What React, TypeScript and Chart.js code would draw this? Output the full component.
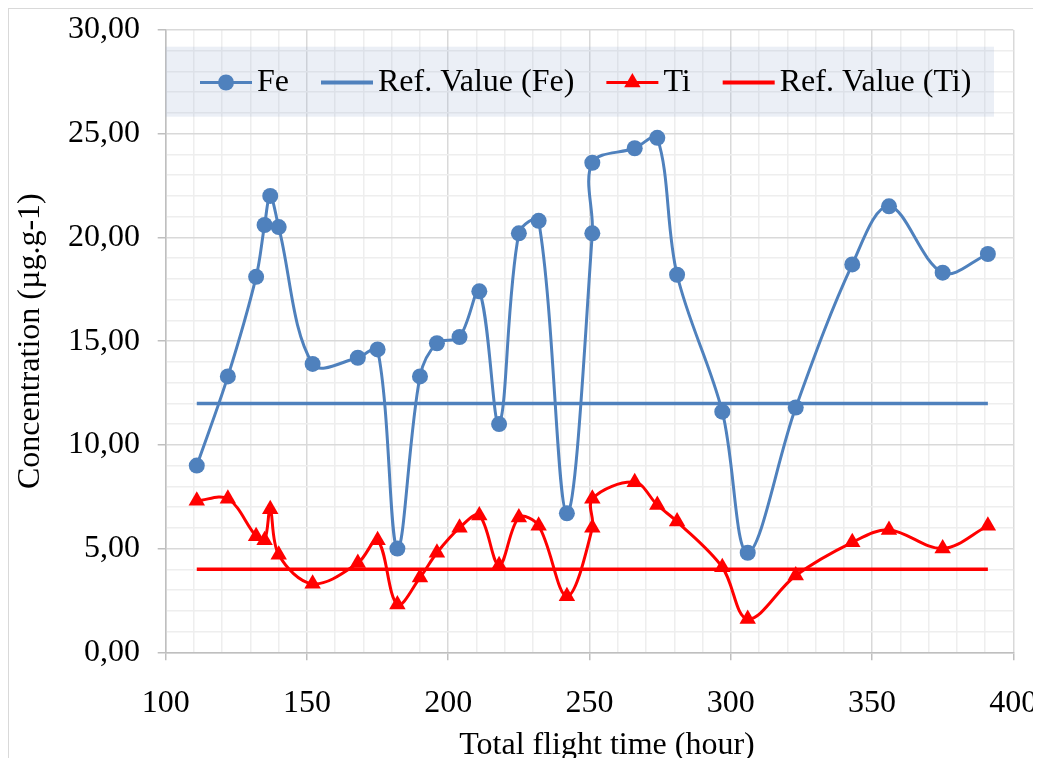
import React, { useEffect, useRef } from 'react';
import { Chart, registerables } from 'chart.js';

Chart.register(...registerables);

// ---- data ----
const flightTime = [111, 122, 132, 135, 137, 140, 152, 168, 175, 182, 190, 196, 204, 211, 218, 225, 232, 242, 251, 251, 266, 274, 281, 297, 306, 323, 343, 356, 375, 391];
const feValues = [9.0, 13.3, 18.1, 20.6, 22.0, 20.5, 13.9, 14.2, 14.6, 5.0, 13.3, 14.9, 15.2, 17.4, 11.0, 20.2, 20.8, 6.7, 20.2, 23.6, 24.3, 24.8, 18.2, 11.6, 4.8, 11.8, 18.7, 21.5, 18.3, 19.2];
const tiValues = [7.3, 7.4, 5.6, 5.4, 6.9, 4.7, 3.3, 4.3, 5.4, 2.3, 3.6, 4.8, 6.0, 6.6, 4.2, 6.5, 6.1, 2.7, 6.0, 7.4, 8.2, 7.1, 6.3, 4.1, 1.6, 3.7, 5.3, 5.9, 5.0, 6.1];
const feRefValue = 12;
const tiRefValue = 4;
const seriesNames = ['Fe', 'Ref. Value (Fe)', 'Ti', 'Ref. Value (Ti)'];
const xTickLabels = ['100', '150', '200', '250', '300', '350', '400'];
const yTickLabels = ['0,00', '5,00', '10,00', '15,00', '20,00', '25,00', '30,00'];
const xTitle = 'Total flight time (hour)';
const yTitle = 'Concentration (µg.g-1)';

const FONT = '"Liberation Serif", "Times New Roman", serif';
const FS = 32;
const FE_COLOR = '#4F81BD';
const TI_COLOR = '#FF0000';

const legendPlugin = {
  id: 'boxLegend',
  beforeDatasetsDraw(chart: any) {
    const { ctx, chartArea } = chart;
    ctx.save();
    ctx.fillStyle = 'rgba(155,175,210,0.2)';
    ctx.fillRect(chartArea.left, chartArea.top + 16.7, 985 - chartArea.left, 70);
    ctx.restore();
  },
  afterDraw(chart: any) {
    const { ctx, chartArea } = chart;
    const cy = chartArea.top + 52.5;
    ctx.save();
    ctx.font = `${FS}px ${FONT}`;
    ctx.textBaseline = 'middle';
    ctx.textAlign = 'left';
    let x = 191;
    const items = [
      { name: seriesNames[0], color: FE_COLOR, marker: 'circle', lw: 3 },
      { name: seriesNames[1], color: FE_COLOR, marker: 'none', lw: 4 },
      { name: seriesNames[2], color: TI_COLOR, marker: 'triangle', lw: 3 },
      { name: seriesNames[3], color: TI_COLOR, marker: 'none', lw: 4 },
    ];
    for (const it of items) {
      ctx.strokeStyle = it.color;
      ctx.lineWidth = it.lw;
      ctx.beginPath();
      ctx.moveTo(x, cy);
      ctx.lineTo(x + 52, cy);
      ctx.stroke();
      const mx = x + 26;
      ctx.fillStyle = it.color;
      if (it.marker === 'circle') {
        ctx.beginPath();
        ctx.arc(mx, cy, 8, 0, Math.PI * 2);
        ctx.fill();
      } else if (it.marker === 'triangle') {
        const r = 9.5;
        ctx.beginPath();
        ctx.moveTo(mx, cy - r);
        ctx.lineTo(mx + 0.866 * r, cy + 0.5 * r);
        ctx.lineTo(mx - 0.866 * r, cy + 0.5 * r);
        ctx.closePath();
        ctx.fill();
      }
      ctx.fillStyle = '#000';
      ctx.fillText(it.name, x + 57, cy);
      x += 57 + ctx.measureText(it.name).width + 32;
    }
    // x-axis title (offset to the right of the plot centre, as in the reference)
    ctx.textAlign = 'center';
    ctx.textBaseline = 'middle';
    ctx.fillText(xTitle, 598, 737);
    ctx.restore();
  },
};

export default function App() {
  const ref = useRef<HTMLCanvasElement>(null);
  useEffect(() => {
    document.documentElement.style.overflow = 'hidden';
    const first = flightTime[0];
    const last = flightTime[flightTime.length - 1];
    const feData = flightTime.map((t, i) => ({ x: t, y: feValues[i] }));
    const tiData = flightTime.map((t, i) => ({ x: t, y: tiValues[i] }));
    const isMajor = (c: any) => c.tick && Math.round(c.tick.value) % (c.scale.axis === 'x' ? 50 : 5) === 0;
    const gridColor = (c: any) => (isMajor(c) ? '#d9d9d9' : '#eeeeee');
    const tickColor = (c: any) => (isMajor(c) ? '#bfbfbf' : 'rgba(0,0,0,0)');
    const chart = new Chart(ref.current!, {
      type: 'line',
      data: {
        datasets: [
          {
            label: seriesNames[1],
            data: [{ x: first, y: feRefValue }, { x: last, y: feRefValue }],
            borderColor: FE_COLOR,
            borderWidth: 3.5,
            pointRadius: 0,
            tension: 0,
            order: 4,
          },
          {
            label: seriesNames[0],
            data: feData,
            borderColor: FE_COLOR,
            backgroundColor: FE_COLOR,
            borderWidth: 3,
            pointStyle: 'circle',
            pointRadius: 8,
            pointBorderWidth: 0,
            pointBackgroundColor: FE_COLOR,
            tension: 0.35,
            order: 3,
          },
          {
            label: seriesNames[3],
            data: [{ x: first, y: tiRefValue }, { x: last, y: tiRefValue }],
            borderColor: TI_COLOR,
            borderWidth: 3.5,
            pointRadius: 0,
            tension: 0,
            order: 2,
          },
          {
            label: seriesNames[2],
            data: tiData,
            borderColor: TI_COLOR,
            backgroundColor: TI_COLOR,
            borderWidth: 3,
            pointStyle: 'triangle',
            pointRadius: 9.5,
            pointBorderWidth: 0,
            pointBackgroundColor: TI_COLOR,
            tension: 0.35,
            order: 1,
          },
        ],
      },
      options: {
        responsive: false,
        animation: false,
        devicePixelRatio: 1,
        layout: { padding: { top: 21, right: 26.7, left: 0, bottom: 0 } },
        plugins: { legend: { display: false }, tooltip: { enabled: false } },
        scales: {
          x: {
            type: 'linear',
            min: 100,
            max: 400,
            afterFit: (s: any) => {
              s.height = 105.7;
              s.paddingLeft = 0;
              s.paddingRight = 0;
            },
            ticks: {
              stepSize: 10,
              autoSkip: false,
              maxRotation: 0,
              padding: 24,
              color: '#000',
              font: { family: FONT, size: FS },
              callback: (v: any) => (Math.round(v) % 50 === 0 ? xTickLabels[(Math.round(v) - 100) / 50] : ''),
            },
            grid: { color: gridColor, lineWidth: 1.5, tickColor, tickLength: 8, tickWidth: 1.5 },
            border: { color: '#bfbfbf', width: 1.5 },
            title: { display: false },
          },
          y: {
            type: 'linear',
            min: 0,
            max: 30,
            afterFit: (s: any) => {
              s.width = 156.7;
              s.paddingTop = 0;
              s.paddingBottom = 0;
            },
            ticks: {
              stepSize: 1,
              autoSkip: false,
              padding: 17.7,
              color: '#000',
              font: { family: FONT, size: FS },
              callback: (v: any) => (Math.round(v) % 5 === 0 ? yTickLabels[Math.round(v) / 5] : ''),
            },
            grid: { color: gridColor, lineWidth: 1.5, tickColor, tickLength: 8, tickWidth: 1.5 },
            border: { color: '#bfbfbf', width: 1.5 },
            title: {
              display: true,
              text: yTitle,
              color: '#000',
              font: { family: FONT, size: FS, lineHeight: 1 },
              padding: { top: 6, bottom: 0 },
            },
          },
        },
      },
      plugins: [legendPlugin],
    } as any);
    return () => chart.destroy();
  }, []);
  return (
    <div
      style={{
        width: 1032,
        height: 750,
        boxSizing: 'border-box',
        borderTop: '1px solid #d9d9d9',
        borderLeft: '1px solid #d9d9d9',
      }}
    >
      <canvas ref={ref} width={1031} height={749} style={{ display: 'block' }} />
    </div>
  );
}
